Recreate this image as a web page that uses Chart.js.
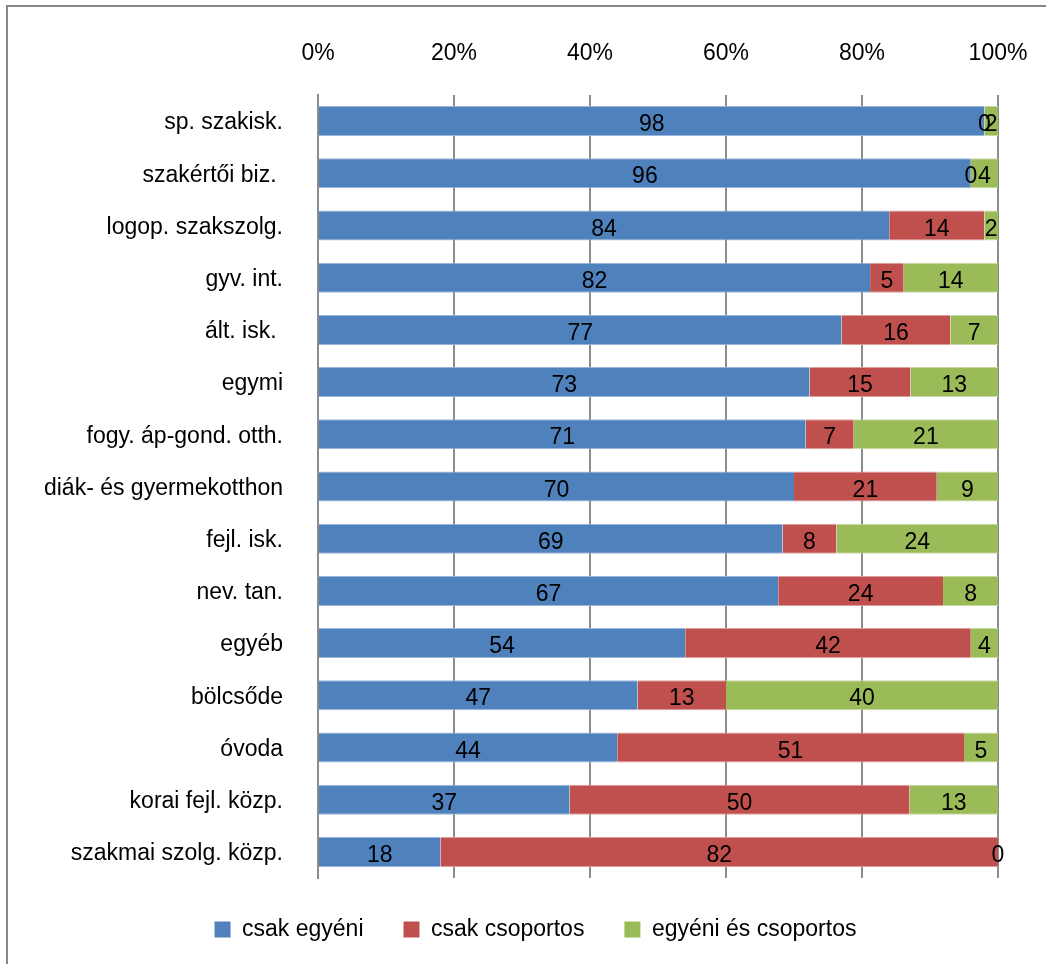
<!DOCTYPE html>
<html>
<head>
<meta charset="utf-8">
<script src="https://cdn.jsdelivr.net/npm/chart.js@4/dist/chart.umd.min.js"></script>
<style>
  html, body { margin: 0; padding: 0; background: #fff; overflow: hidden; }
  #frame {
    position: absolute; left: 6px; top: 5px; width: 2000px; height: 2000px;
    border-left: 2px solid #868686; border-top: 2px solid #868686;
  }
  #wrap { position: absolute; left: 0; top: 0; width: 1046px; height: 964px; }
</style>
</head>
<body>
<div id="frame"></div>
<div id="wrap"><canvas id="chart" width="1046" height="964"></canvas></div>
<script>
const categories = [
  'sp. szakisk.',
  'szakértői biz. ',
  'logop. szakszolg.',
  'gyv. int.',
  'ált. isk. ',
  'egymi',
  'fogy. áp-gond. otth.',
  'diák- és gyermekotthon',
  'fejl. isk.',
  'nev. tan.',
  'egyéb',
  'bölcsőde',
  'óvoda',
  'korai fejl. közp.',
  'szakmai szolg. közp.'
]
const seriesNames = ['csak egyéni', 'csak csoportos', 'egyéni és csoportos']
const csakEgyeni = [98, 96, 84, 82, 77, 73, 71, 70, 69, 67, 54, 47, 44, 37, 18]
const csakCsoportos = [0, 0, 14, 5, 16, 15, 7, 21, 8, 24, 42, 13, 51, 50, 82]
const egyeniEsCsoportos = [2, 4, 2, 14, 7, 13, 21, 9, 24, 8, 4, 40, 5, 13, 0]
const xTicks = [0, 20, 40, 60, 80, 100]

const FONT = '"Liberation Sans", Arial, sans-serif'
const FONT_SIZE = 23

// each row is shown as shares of its own total (100% stacked)
const rowTotals = categories.map((_, i) => csakEgyeni[i] + csakCsoportos[i] + egyeniEsCsoportos[i])
const toShare = arr => arr.map((v, i) => v / rowTotals[i] * 100)

const makeSet = (label, values, fill, edge) => ({
  label,
  data: toShare(values),
  rawValues: values,
  backgroundColor: fill,
  borderColor: edge,
  borderWidth: { top: 1, bottom: 1, left: 0, right: 0 },
  borderSkipped: false,
  barPercentage: 0.575,
  categoryPercentage: 1
})

// value labels in the middle of each segment
const segmentLabels = {
  id: 'segmentLabels',
  afterLayout(chart) {
    // centre the legend row under the plot, not under the whole canvas
    chart.legend.left = 73
  },
  afterDatasetsDraw(chart) {
    const ctx = chart.ctx
    ctx.save()
    ctx.font = FONT_SIZE + 'px ' + FONT
    ctx.fillStyle = '#000'
    ctx.textAlign = 'center'
    ctx.textBaseline = 'alphabetic'
    chart.data.datasets.forEach((ds, di) => {
      chart.getDatasetMeta(di).data.forEach((bar, i) => {
        const c = bar.getCenterPoint()
        ctx.fillText(String(ds.rawValues[i]), c.x, c.y + 10)
      })
    })
    ctx.restore()
  }
}

new Chart(document.getElementById('chart'), {
  type: 'bar',
  data: {
    labels: categories,
    datasets: [
      makeSet(seriesNames[0], csakEgyeni, '#4f81bd', '#9ab6da'),
      makeSet(seriesNames[1], csakCsoportos, '#c0504d', '#dc9f9d'),
      makeSet(seriesNames[2], egyeniEsCsoportos, '#9bbb59', '#c6d9a0')
    ]
  },
  options: {
    indexAxis: 'y',
    responsive: false,
    animation: false,
    layout: { padding: { left: 0, right: 48, top: 0, bottom: 13 } },
    scales: {
      x: {
        position: 'top',
        stacked: true,
        min: 0,
        max: 100,
        afterBuildTicks: axis => { axis.ticks = xTicks.map(v => ({ value: v })) },
        afterFit: axis => {
          axis.height = 95
          axis.paddingLeft = 0
          axis.paddingRight = 0
        },
        ticks: {
          padding: 28,
          color: '#000',
          font: { family: FONT, size: FONT_SIZE },
          callback: v => v + '%'
        },
        grid: { color: '#8c8c8c', lineWidth: 2, drawTicks: false },
        border: { display: false }
      },
      y: {
        stacked: true,
        afterFit: axis => { axis.width = 318 },
        ticks: {
          padding: 27,
          labelOffset: 2,
          color: '#000',
          font: { family: FONT, size: FONT_SIZE }
        },
        grid: { display: false },
        border: { display: true, color: '#8c8c8c', width: 2 }
      }
    },
    plugins: {
      legend: {
        position: 'bottom',
        labels: {
          boxWidth: 16,
          boxHeight: 16,
          padding: 40,
          color: '#000',
          font: { family: FONT, size: FONT_SIZE },
          generateLabels: chart => chart.data.datasets.map((ds, i) => ({
            text: ds.label,
            fillStyle: ds.backgroundColor,
            strokeStyle: ds.backgroundColor,
            lineWidth: 0,
            datasetIndex: i,
            hidden: false
          }))
        }
      },
      tooltip: { enabled: false }
    }
  },
  plugins: [segmentLabels]
})
</script>
</body>
</html>
